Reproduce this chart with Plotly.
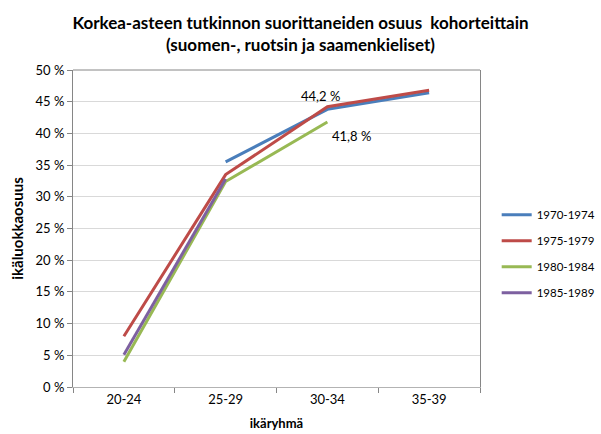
import plotly.graph_objects as go

categories = ["20-24", "25-29", "30-34", "35-39"]
series_names = ["1970-1974", "1975-1979", "1980-1984", "1985-1989"]
s1970 = [None, 35.5, 43.8, 46.4]
s1975 = [8.0, 33.5, 44.2, 46.8]
s1980 = [4.0, 32.4, 41.8, None]
s1985 = [5.1, 32.8, None, None]
y_ticks = [0, 5, 10, 15, 20, 25, 30, 35, 40, 45, 50]
y_tick_labels = [f"{v} %" for v in y_ticks]

colors = ["#4a7ebb", "#be4b48", "#98b954", "#7d60a0"]
FONT = "Lato"

fig = go.Figure()
for i, (name, vals) in enumerate(zip(series_names, [s1970, s1975, s1980, s1985])):
    fig.add_trace(go.Scatter(
        x=categories, y=vals, name=name, mode="lines",
        line=dict(color=colors[i], width=3),
        legendgroup=name, connectgaps=False,
    ))

fig.add_annotation(x="30-34", y=44.2, text="44,2 %", showarrow=False,
                   xshift=-7, yshift=11, font=dict(size=13, color="#000"))
fig.add_annotation(x="30-34", y=41.8, text="41,8 %", showarrow=False,
                   xshift=24, yshift=-14, font=dict(size=13, color="#000"))

# top border of plot area
fig.add_shape(type="line", xref="paper", yref="paper", x0=0, x1=1, y0=1, y1=1,
              line=dict(color="#868686", width=1))

fig.update_layout(
    width=601, height=434,
    margin=dict(l=73, r=121, t=70, b=47, autoexpand=False),
    paper_bgcolor="white", plot_bgcolor="white",
    font=dict(family=FONT, size=13, color="#000"),
    title=dict(
        text="<b>Korkea-asteen tutkinnon suorittaneiden osuus  kohorteittain<br>(suomen-, ruotsin ja saamenkieliset)</b>",
        x=0.5, xref="container", xanchor="center", y=1 - 29 / 434, yanchor="middle",
        font=dict(size=17, family=FONT),
    ),
    legend=dict(x=1.041, xanchor="left", y=0.42, yanchor="middle",
                traceorder="grouped", tracegroupgap=7, borderwidth=0,
                font=dict(size=11.5), bgcolor="rgba(0,0,0,0)"),
    xaxis=dict(
        type="category", categoryorder="array", categoryarray=categories,
        range=[-0.5, 3.5], showgrid=False, showline=True, linecolor="#b3b3b3", linewidth=1,
        ticks="outside", tickson="boundaries", ticklen=5, tickcolor="#868686",
        automargin=False, tickfont=dict(size=13),
        title=dict(text="<b>ikäryhmä</b>", font=dict(size=13), standoff=13),
    ),
    yaxis=dict(
        range=[0, 50], tickvals=y_ticks, ticktext=y_tick_labels,
        showgrid=True, gridcolor="#d9d9d9", gridwidth=1,
        showline=True, linecolor="#868686", linewidth=1, mirror=True,
        ticks="outside", ticklen=5, tickcolor="#868686",
        zeroline=False, automargin=False, tickfont=dict(size=13),
        title=dict(text="<b>ikäluokkaosuus</b>", font=dict(size=15), standoff=8),
    ),
)

fig.write_html("out.html", config={"displayModeBar": False},
               post_script="document.body.style.margin='0';")
